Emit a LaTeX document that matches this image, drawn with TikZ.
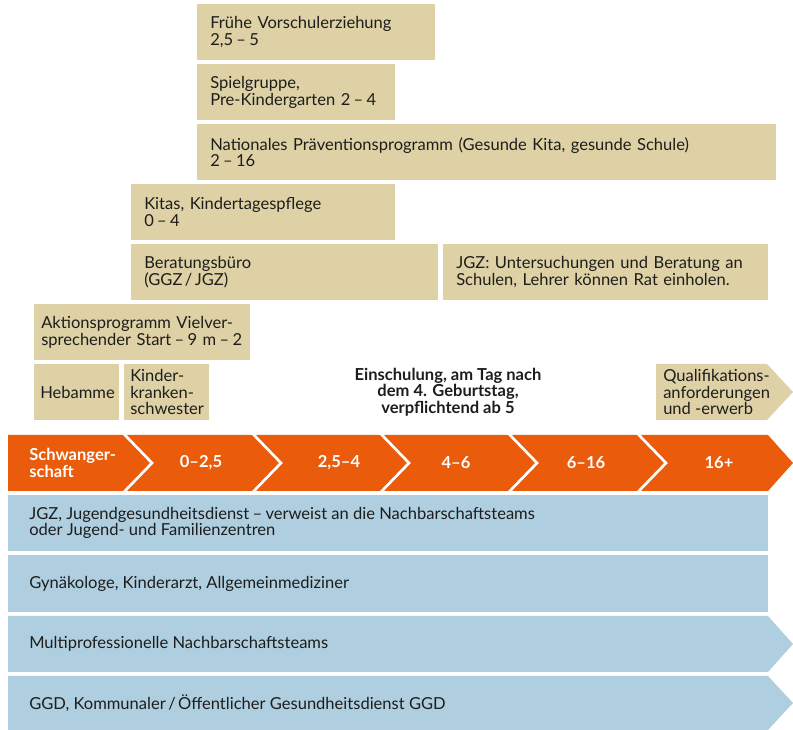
\documentclass[tikz,border=0pt]{standalone}
\usepackage{fontspec}
\setmainfont{Lato}
\usetikzlibrary{positioning}
\definecolor{boxbeige}{HTML}{DFD1A6}
\definecolor{bandorange}{HTML}{EA5B0C}
\definecolor{bandblue}{HTML}{AFCFE0}
\definecolor{textgray}{HTML}{1D1D1B}
\newcommand{\bisdash}{\kern0.2em–\kern0.2em}
\newcommand{\slashsep}{\kern0.15em/\kern0.15em}

\tikzset{
    infobox/.style={fill=boxbeige, anchor=north west, minimum height=42pt,
        inner xsep=9.75pt, inner ysep=0pt, align=left, text width=#1},
    smallbox/.style={infobox=#1, inner xsep=4.5pt},
    agelabel/.style={text=white, font=\fontsize{12.4}{12.5}\selectfont\bfseries, align=left},
    bandlabel/.style={anchor=west, align=left, inner sep=0pt}
}

\begin{document}
\begin{tikzpicture}[
        x=0.75pt, y=-0.75pt,
        font=\fontsize{12.4}{12.5}\selectfont,
        text=textgray
    ]
        \useasboundingbox (0,0) rectangle (793,730);

        % Programme boxes
        \node[infobox=159pt] (vorschule) at (197,4) {Frühe Vorschulerziehung\\2,5\bisdash5};
        \node[infobox=129pt] (spielgruppe) at (197,64) {Spielgruppe,\\Pre-Kindergarten 2\bisdash4};
        \node[infobox=414.75pt] (praevention) at (197,124) {Nationales Präventionsprogramm (Gesunde Kita, gesunde Schule)\\2\bisdash16};
        \node[infobox=178.5pt] (kitas) at (131,184) {Kitas, Kindertagespflege\\0\bisdash4};
        \node[infobox=210.75pt] (beratung) at (131,244) {Beratungsbüro\\(GGZ\slashsep JGZ)};
        \node[infobox=224.25pt] (jgzschule) at (443,244) {JGZ: Untersuchungen und Beratung an\\Schulen, Lehrer können Rat einholen.};
        \node[infobox=151.5pt, inner xsep=5.25pt] (aktion) at (34,304) {Aktionsprogramm Vielver-\\sprechender Start\bisdash9 m\bisdash2};
        \node[smallbox=54.75pt] (hebamme) at (34,364) {Hebamme};
        \node[smallbox=54.75pt] (kinderkr) at (124,364) {Kinder-\\kranken-\\schwester};

        % School entry note
        \node[font=\fontsize{12.4}{12.5}\selectfont\bfseries, align=center] (einschulung) at (448,392)
            {Einschulung, am Tag nach\\dem 4. Geburtstag,\\verpflichtend ab 5};

        % Qualification arrow box
        \fill[boxbeige] (656,364) -- (767,364) -- (793,392) -- (767,420) -- (656,420) -- cycle;
        \node[bandlabel] (quali) at (663,392) {Qualifikations-\\anforderungen\\und -erwerb};

        % Age band
        \fill[bandorange] (8,435) -- (768,435) -- (793,463) -- (768,491) -- (8,491) -- cycle;
        \foreach \cx in {123,252,380,508,637}
            \draw[white, line width=2pt] (\cx,433) -- (\cx+29,463) -- (\cx,493);
        \node[agelabel, anchor=west, inner sep=0pt] (schwanger) at (29,463) {Schwanger-\\schaft};
        \node[agelabel] (age1) at (201,463) {0–2,5};
        \node[agelabel] (age2) at (339,463) {2,5–4};
        \node[agelabel] (age3) at (456,463) {4–6};
        \node[agelabel] (age4) at (586,463) {6–16};
        \node[agelabel] (age5) at (719,463) {16+};

        % Service bands
        \fill[bandblue] (8,495) rectangle (768,551);
        \fill[bandblue] (8,555) rectangle (768,612);
        \fill[bandblue] (8,616) -- (768,616) -- (793,644) -- (768,672) -- (8,672) -- cycle;
        \fill[bandblue] (8,676) -- (768,676) -- (793,703) -- (768,730) -- (8,730) -- cycle;

        \node[bandlabel] (jgz) at (29,523) {JGZ, Jugendgesundheitsdienst\bisdash verweist an die Nachbarschaftsteams\\oder Jugend- und Familienzentren};
        \node[bandlabel] (aerzte) at (29,583.5) {Gynäkologe, Kinderarzt, Allgemeinmediziner};
        \node[bandlabel] (teams) at (29,644) {Multiprofessionelle Nachbarschaftsteams};
        \node[bandlabel] (ggd) at (29,703) {GGD, Kommunaler\slashsep Öffentlicher Gesundheitsdienst GGD};

    \end{tikzpicture}
\end{document}
